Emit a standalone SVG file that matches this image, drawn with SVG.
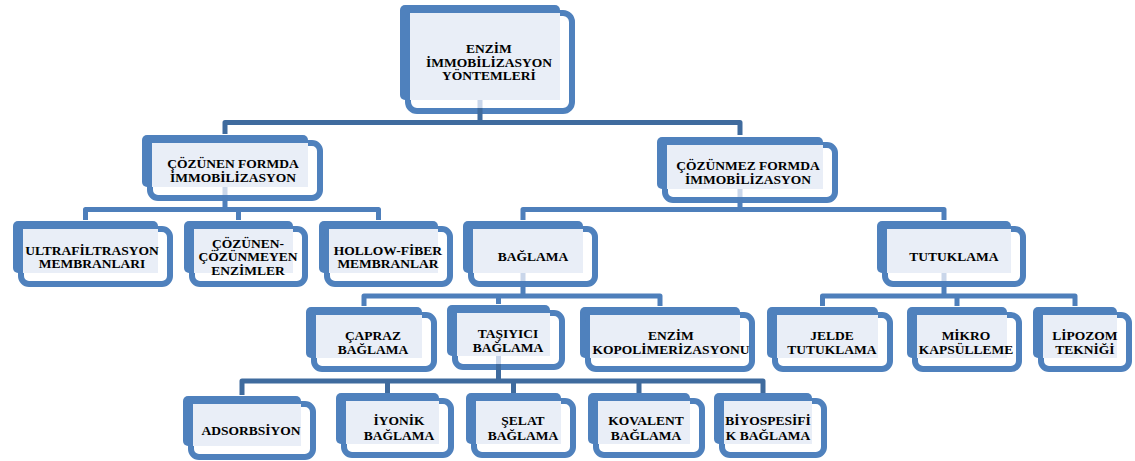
<svg xmlns="http://www.w3.org/2000/svg" width="1135" height="461" viewBox="0 0 1135 461">
<style>
.b{fill:#4F81BD}
.f{fill:#FFFFFF;stroke:#4F81BD;stroke-width:6}
.l{fill:#E9EEF7}
.t{font-family:"Liberation Serif","Times New Roman",serif;font-weight:bold;font-size:13.5px;fill:#000;text-anchor:middle}
.c{fill:none;stroke:#4E7FBB;stroke-width:5;stroke-linejoin:round}
.cd{fill:none;stroke:#3F6B9E;stroke-width:5;stroke-linejoin:round}
.s{fill:#C9D6EA}
</style>
<rect width="1135" height="461" fill="#FFFFFF"/>

<g id="n-root">
<rect class="b" x="400" y="5" width="160" height="95" rx="5"/>
<rect class="f" x="408" y="13" width="164" height="98" rx="9"/>
<rect class="l" x="410" y="13" width="150" height="87"/>
<text class="t" x="489" y="53">ENZİM</text>
<text class="t" x="489" y="66.5">İMMOBİLİZASYON</text>
<text class="t" x="489" y="80">YÖNTEMLERİ</text>
</g>

<g id="n-cozunen">
<rect class="b" x="142" y="135" width="166" height="52" rx="5"/>
<rect class="f" x="150" y="143" width="170" height="55" rx="8"/>
<rect class="l" x="152" y="143" width="156" height="44"/>
<text class="t" x="233" y="168">ÇÖZÜNEN FORMDA</text>
<text class="t" x="233" y="181.5">İMMOBİLİZASYON</text>
</g>

<g id="n-cozunmez">
<rect class="b" x="657" y="137" width="166" height="52" rx="5"/>
<rect class="f" x="665" y="145" width="170" height="55" rx="8"/>
<rect class="l" x="667" y="145" width="156" height="44"/>
<text class="t" x="748" y="170">ÇÖZÜNMEZ FORMDA</text>
<text class="t" x="748" y="183.5">İMMOBİLİZASYON</text>
</g>

<g id="n-ultra">
<rect class="b" x="13" y="221" width="145" height="52" rx="5"/>
<rect class="f" x="21" y="229" width="149" height="55" rx="8"/>
<rect class="l" x="23" y="229" width="135" height="44"/>
<text class="t" x="92" y="254.5">ULTRAFİLTRASYON</text>
<text class="t" x="92" y="268">MEMBRANLARI</text>
</g>

<g id="n-cozcoz">
<rect class="b" x="184" y="221" width="109" height="52" rx="5"/>
<rect class="f" x="192" y="229" width="113" height="55" rx="8"/>
<rect class="l" x="194" y="229" width="99" height="44"/>
<text class="t" x="248" y="247.5">ÇÖZÜNEN-</text>
<text class="t" x="248" y="261">ÇÖZÜNMEYEN</text>
<text class="t" x="248" y="274.5">ENZİMLER</text>
</g>

<g id="n-hollow">
<rect class="b" x="319" y="221" width="119" height="52" rx="5"/>
<rect class="f" x="327" y="229" width="123" height="55" rx="8"/>
<rect class="l" x="329" y="229" width="109" height="44"/>
<text class="t" x="388" y="254.5">HOLLOW-FİBER</text>
<text class="t" x="388" y="268">MEMBRANLAR</text>
</g>

<g id="n-baglama">
<rect class="b" x="463" y="221" width="120" height="52" rx="5"/>
<rect class="f" x="471" y="229" width="124" height="55" rx="8"/>
<rect class="l" x="473" y="229" width="110" height="44"/>
<text class="t" x="533" y="261">BAĞLAMA</text>
</g>

<g id="n-tutuklama">
<rect class="b" x="877" y="221" width="134" height="52" rx="5"/>
<rect class="f" x="885" y="229" width="138" height="55" rx="8"/>
<rect class="l" x="887" y="229" width="124" height="44"/>
<text class="t" x="954" y="261">TUTUKLAMA</text>
</g>

<g id="n-capraz">
<rect class="b" x="306" y="307" width="116" height="51" rx="5"/>
<rect class="f" x="314" y="315" width="120" height="54" rx="8"/>
<rect class="l" x="316" y="315" width="106" height="43"/>
<text class="t" x="373" y="340">ÇAPRAZ</text>
<text class="t" x="373" y="353.5">BAĞLAMA</text>
</g>

<g id="n-tasiyici">
<rect class="b" x="447" y="305" width="103" height="51" rx="5"/>
<rect class="f" x="455" y="313" width="107" height="54" rx="8"/>
<rect class="l" x="457" y="313" width="93" height="43"/>
<text class="t" x="508" y="338">TAŞIYICI</text>
<text class="t" x="508" y="351.5">BAĞLAMA</text>
</g>

<g id="n-kopol">
<rect class="b" x="580" y="307" width="160" height="51" rx="5"/>
<rect class="f" x="588" y="315" width="164" height="54" rx="8"/>
<rect class="l" x="590" y="315" width="150" height="43"/>
<text class="t" x="671" y="340">ENZİM</text>
<text class="t" x="671" y="353.5">KOPOLİMERİZASYONU</text>
</g>

<g id="n-jelde">
<rect class="b" x="767" y="307" width="111" height="51" rx="5"/>
<rect class="f" x="775" y="315" width="115" height="54" rx="8"/>
<rect class="l" x="777" y="315" width="101" height="43"/>
<text class="t" x="832" y="340">JELDE</text>
<text class="t" x="832" y="353.5">TUTUKLAMA</text>
</g>

<g id="n-mikro">
<rect class="b" x="907" y="307" width="100" height="51" rx="5"/>
<rect class="f" x="915" y="315" width="104" height="54" rx="8"/>
<rect class="l" x="917" y="315" width="90" height="43"/>
<text class="t" x="966" y="340">MİKRO</text>
<text class="t" x="966" y="353.5">KAPSÜLLEME</text>
</g>

<g id="n-lipozom">
<rect class="b" x="1033" y="307" width="84" height="51" rx="5"/>
<rect class="f" x="1041" y="315" width="88" height="54" rx="8"/>
<rect class="l" x="1043" y="315" width="74" height="43"/>
<text class="t" x="1085" y="340">LİPOZOM</text>
<text class="t" x="1085" y="353.5">TEKNİĞİ</text>
</g>

<g id="n-adsorbsiyon">
<rect class="b" x="183" y="396" width="118" height="50" rx="5"/>
<rect class="f" x="191" y="404" width="122" height="53" rx="8"/>
<rect class="l" x="193" y="404" width="108" height="42"/>
<text class="t" x="251" y="435">ADSORBSİYON</text>
</g>

<g id="n-iyonik">
<rect class="b" x="336" y="393" width="103" height="51" rx="5"/>
<rect class="f" x="344" y="401" width="107" height="54" rx="8"/>
<rect class="l" x="346" y="401" width="93" height="43"/>
<text class="t" x="399" y="425">İYONİK</text>
<text class="t" x="399" y="439.5">BAĞLAMA</text>
</g>

<g id="n-selat">
<rect class="b" x="466" y="393" width="95" height="51" rx="5"/>
<rect class="f" x="474" y="401" width="99" height="54" rx="8"/>
<rect class="l" x="476" y="401" width="85" height="43"/>
<text class="t" x="523" y="425">ŞELAT</text>
<text class="t" x="523" y="439.5">BAĞLAMA</text>
</g>

<g id="n-kovalent">
<rect class="b" x="588" y="393" width="102" height="51" rx="5"/>
<rect class="f" x="596" y="401" width="106" height="54" rx="8"/>
<rect class="l" x="598" y="401" width="92" height="43"/>
<text class="t" x="646" y="425">KOVALENT</text>
<text class="t" x="646" y="439.5">BAĞLAMA</text>
</g>

<g id="n-biyo">
<rect class="b" x="714" y="393" width="98" height="51" rx="5"/>
<rect class="f" x="722" y="401" width="102" height="54" rx="8"/>
<rect class="l" x="724" y="401" width="88" height="43"/>
<text class="t" x="768" y="425">BİYOSPESİFİ</text>
<text class="t" x="768" y="439.5">K BAĞLAMA</text>
</g>

<g id="connectors">
<rect class="s" x="477.5" y="100" width="5" height="8"/>
<path class="cd" d="M480 108 V122.5 M225 134 V122.5 H740 V135"/>
<rect class="s" x="222.5" y="187" width="5" height="8"/>
<path class="c" d="M225 195 V209.5 M85.5 220 V209.5 H378.5 V220 M238.5 209.5 V220"/>
<rect class="s" x="737.5" y="189" width="5" height="8"/>
<path class="c" d="M740 197 V209.5 M523 220 V209.5 H944 V220"/>
<rect class="s" x="520.5" y="273" width="5" height="8"/>
<path class="c" d="M523 281 V296 M364 306 V296 H660 V306 M498.5 296 V304"/>
<rect class="s" x="941.5" y="273" width="5" height="8"/>
<path class="c" d="M944 281 V296 M822.5 306 V296 H1075 V306 M957 296 V306"/>
<rect class="s" x="496" y="356" width="5" height="8"/>
<path class="cd" d="M498.5 364 V381 M242 395 V381 H763 V393 M387.5 381 V393 M513.5 381 V393 M639 381 V393"/>
</g>
</svg>
